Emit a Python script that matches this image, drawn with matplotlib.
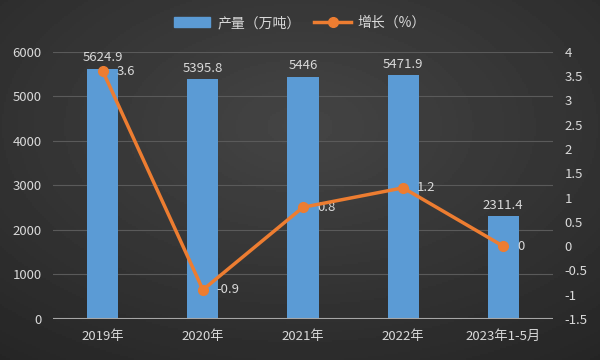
import numpy as np
import matplotlib
matplotlib.use('Agg')
import matplotlib.pyplot as plt
from matplotlib.lines import Line2D
from matplotlib.patches import Patch

plt.rcParams['font.family'] = ['Noto Sans CJK SC', 'DejaVu Sans']

years = ['2019年', '2020年', '2021年', '2022年', '2023年1-5月']
output = [5624.9, 5395.8, 5446, 5471.9, 2311.4]
growth = [3.6, -0.9, 0.8, 1.2, 0]
output_labels = ['5624.9', '5395.8', '5446', '5471.9', '2311.4']
growth_labels = ['3.6', '-0.9', '0.8', '1.2', '0']

txt = '#d9d9d9'
bar_c = '#5b9bd5'
line_c = '#ed7d31'

fig = plt.figure(figsize=(6, 3.6), dpi=100)

# dark radial background
bg = fig.add_axes([0, 0, 1, 1])
yy, xx = np.mgrid[0:1:180j, 0:1:300j]
r = np.sqrt(((xx - 0.5) / 0.8) ** 2 + ((yy - 0.35) / 0.8) ** 2)
bg.imshow(0.27 - 0.12 * r, cmap='gray', vmin=0, vmax=1, aspect='auto',
          extent=[0, 1, 0, 1], origin='upper')
bg.axis('off')

ax = fig.add_axes([0.088, 0.114, 0.834, 0.742])
ax.patch.set_alpha(0)
x = np.arange(len(years))
ax.bar(x, output, width=0.31, color=bar_c, zorder=2)
for xi, v, s in zip(x, output, output_labels):
    ax.annotate(s, (xi, v), xytext=(0, 3), textcoords='offset points',
                ha='center', va='bottom', color=txt, fontsize=9.5)
ax.set_ylim(0, 6000)
ax.set_xlim(-0.5, len(years) - 0.5)
ax.set_yticks(range(0, 6001, 1000))
ax.yaxis.grid(True, color='#5a5a5a', linewidth=0.8)
ax.set_axisbelow(True)
ax.set_xticks(x)
ax.set_xticklabels(years)
for sp in ax.spines.values():
    sp.set_visible(False)
ax.axhline(0, color='#a6a6a6', linewidth=1.5, zorder=3)
ax.tick_params(axis='both', length=0, colors=txt, labelsize=9.5, pad=8)

ax2 = ax.twinx()
ax2.plot(x, growth, color=line_c, linewidth=2.5, marker='o', markersize=7, zorder=4)
for xi, v, s in zip(x, growth, growth_labels):
    ax2.annotate(s, (xi, v), xytext=(10, 0), textcoords='offset points',
                 ha='left', va='center', color=txt, fontsize=9.5)
ax2.set_ylim(-1.5, 4)
ax2.set_yticks(np.arange(-1.5, 4.01, 0.5))
ax2.set_yticklabels([('%g' % t) for t in np.arange(-1.5, 4.01, 0.5)])
for sp in ax2.spines.values():
    sp.set_visible(False)
ax2.tick_params(axis='y', length=0, colors=txt, labelsize=9.5, pad=8)

handles = [Patch(color=bar_c),
           Line2D([0], [0], color=line_c, linewidth=2.5, marker='o', markersize=7)]
leg = fig.legend(handles, ['产量（万吨）', '增长（%）'], loc='upper center',
                 bbox_to_anchor=(0.5, 0.99), ncol=2, frameon=False,
                 fontsize=10, labelcolor=txt, handlelength=2.6, columnspacing=1.0,
                 handletextpad=0.5)

fig.savefig('out.png', dpi=100)
